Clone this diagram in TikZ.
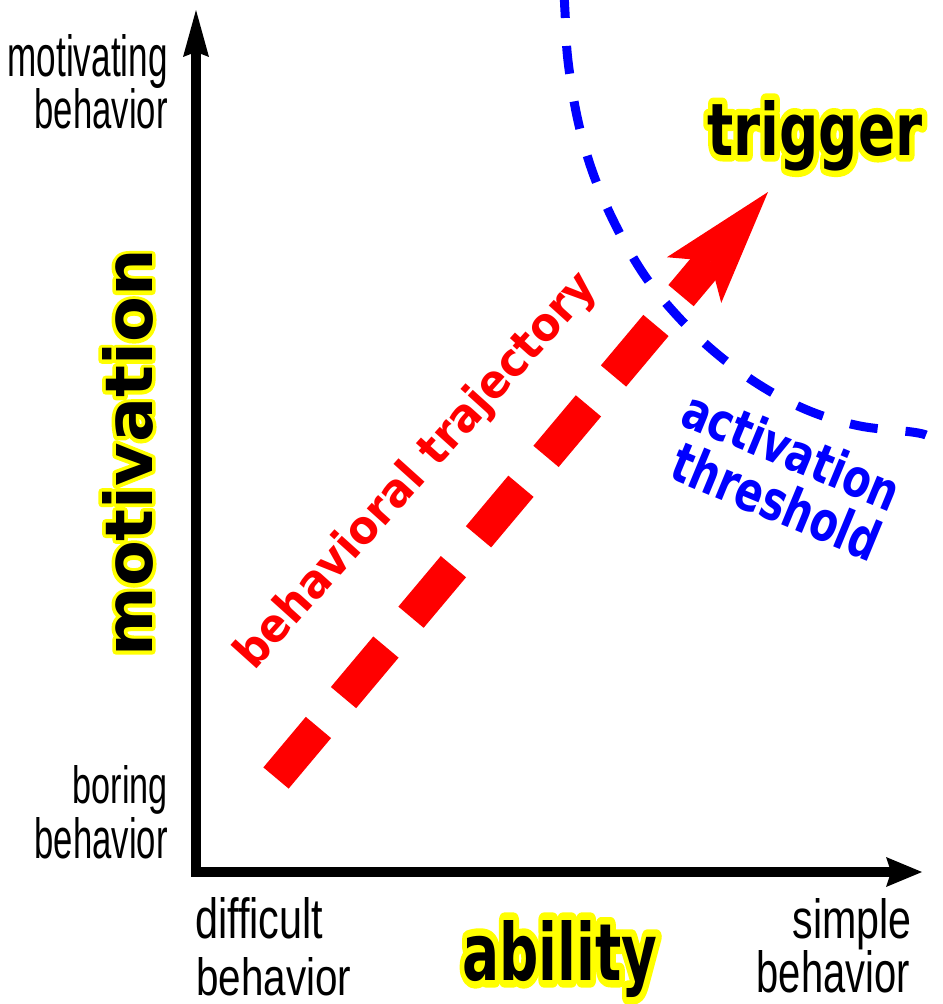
\documentclass[tikz,border=0pt]{standalone}
\usepackage{fontspec}
\setmainfont{Liberation Sans}
\newfontfamily\heavyfont{DejaVu Sans}
\usepackage{graphicx}
\usepackage{tikz}
\usetikzlibrary{arrows.meta}
\pgfdeclarelayer{edgelayer}
\pgfdeclarelayer{nodelayer}
\pgfsetlayers{edgelayer,nodelayer,main}
\definecolor{trajred}{RGB}{255,0,0}
\definecolor{threshblue}{RGB}{0,0,255}
\newlength{\px}
\setlength{\px}{0.02cm}
\newcommand{\fitto}[3]{\resizebox{#1\px}{#2\px}{#3}}
% yellow outline under the black letters
\newcommand{\glowtext}[4]{\fitto{#1}{#2}{\heavyfont\bfseries\rlap{\special{pdf:literal direct 1 1 0 rg 1 1 0 RG #3 w 1 j 2 Tr}#4\special{pdf:literal direct 0 Tr 0 0 0 rg 0 0 0 RG}}#4}}
\tikzstyle{axis}=[draw=black, line width=0.2cm, line join=miter]
\tikzstyle{trajectory}=[draw=trajred, line width=0.66cm, dash pattern=on 1.32cm off 0.78cm, -{Stealth[length=2.3cm, width=1.42cm, inset=0.5cm, line width=0pt]}]
\tikzstyle{threshold}=[draw=threshblue, line width=0.18cm, dash pattern=on 0.56cm off 0.56cm]
\tikzstyle{endlabel}=[inner sep=0pt, text=black]
\tikzstyle{keylabel}=[inner sep=0pt, text=black]
\tikzstyle{redlabel}=[inner sep=0pt, text=trajred, font=\heavyfont\bfseries]
\tikzstyle{bluelabel}=[inner sep=0pt, text=threshblue, font=\heavyfont\bfseries]

\begin{document}
\begin{tikzpicture}[x=0.02cm, y=-0.02cm]
		\useasboundingbox (0,0) rectangle (943,1004);
		\begin{pgfonlayer}{nodelayer}
			\coordinate (origin) at (196,872);
			\coordinate (ytip) at (196,10);
			\coordinate (xtip) at (922,872);
			\coordinate (trajstart) at (276,778);
			\coordinate (trajtip) at (768,192);
			\node [style=endlabel, anchor=base east] (motivating) at (168,76) {\fitto{160}{42}{motivating}};
			\node [style=endlabel, anchor=base east] (behaviortop) at (168,128) {\fitto{133}{40}{behavior}};
			\node [style=endlabel, anchor=base east] (boring) at (168,803) {\fitto{95}{38}{boring}};
			\node [style=endlabel, anchor=base east] (behaviorlow) at (168,858) {\fitto{133}{41}{behavior}};
			\node [style=endlabel, anchor=base west] (difficult) at (195,938) {\fitto{128}{41}{difficult}};
			\node [style=endlabel, anchor=base west] (behaviorleft) at (196,995) {\fitto{155}{38}{behavior}};
			\node [style=endlabel, anchor=base east] (simple) at (912,938) {\fitto{119}{40}{simple}};
			\node [style=endlabel, anchor=base east] (behaviorright) at (910,992) {\fitto{153}{42}{behavior}};
			\node [style=keylabel, anchor=base] (trigger) at (815,155) {\glowtext{215}{55}{1.8}{trigger}};
			\node [style=keylabel, anchor=base] (ability) at (560,980) {\glowtext{195}{60}{1.9}{ability}};
			\node [style=keylabel, anchor=base, rotate=90] (motivation) at (152,453) {\glowtext{407}{50}{1.1}{motivation}};
			\node [style=redlabel, rotate=48] (trajlabel) at (417,472) {\fitto{515}{35}{behavioral trajectory}};
			\node [style=bluelabel, rotate=-22.5] (activation) at (792,450) {\fitto{230}{40}{activation}};
			\node [style=bluelabel, rotate=-22.5] (threshold) at (777,501) {\fitto{220}{42}{threshold}};
		\end{pgfonlayer}
		\begin{pgfonlayer}{edgelayer}
			\draw [style=axis, {Stealth[length=0.94cm, width=0.52cm, inset=0.1cm, line width=0pt]}-{Stealth[length=0.72cm, width=0.6cm, inset=0.1cm, line width=0pt]}] (ytip) -- (origin) -- (xtip);
			\draw [style=trajectory] (trajstart) -- (trajtip);
			\draw [style=threshold] plot [smooth, tension=0.6] coordinates {(564,-10) (565,12) (568,61) (578,121) (594,176) (618,230) (647,279) (683,322) (722,358) (766,389) (812,412) (860,426) (912,432) (926,435)};
		\end{pgfonlayer}
\end{tikzpicture}
\end{document}
